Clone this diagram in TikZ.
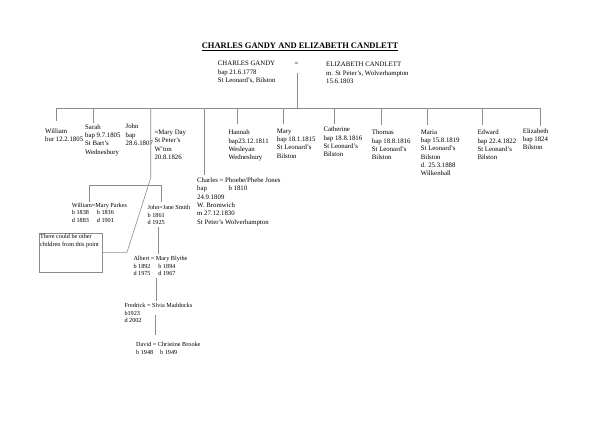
\documentclass[tikz,border=0pt]{standalone}
\usepackage{fontspec}
\setmainfont{Liberation Serif}
\tikzset{
  conn/.style={draw=black!45, line width=0.6pt},
  body/.style={anchor=north west, inner sep=0pt, align=left, font=\fontsize{6.8}{8.3}\selectfont},
  small/.style={anchor=north west, inner sep=0pt, align=left, font=\fontsize{6.2}{7.5}\selectfont},
  notebox/.style={draw=black!45, line width=0.6pt, anchor=north west, inner sep=0pt, minimum width=63.2pt, minimum height=39pt},
}
\begin{document}
\begin{tikzpicture}[x=1pt,y=-1pt]
\path[use as bounding box, fill=white] (0,0) rectangle (600,424);
% title
\node[anchor=base, inner sep=0pt, font=\fontsize{8.5}{10}\selectfont\bfseries] (title) at (300,48.6) {\underline{CHARLES GANDY AND ELIZABETH CANDLETT}};
% parents
\node[body] (cg) at (217.7,61) {CHARLES GANDY\\bap 21.6.1778\\St Leonard's, Bilston};
\node[anchor=center, inner sep=0pt, font=\fontsize{6.8}{8.3}\selectfont] (eq) at (296.5,63.5) {=};
\node[body] (ec) at (326,62) {ELIZABETH CANDLETT\\m. St Peter's, Wolverhampton\\15.6.1803};
% children
\node[body] (william) at (45,128.7) {William\\bur 12.2.1805};
\node[body] (sarah) at (85,124.4) {Sarah\\bap 9.7.1805\\St Bart's\\Wednesbury};
\node[body] (john) at (125.5,123.8) {John\\bap\\28.6.1807};
\node[body] (maryday) at (154.3,130) {=Mary Day\\St Peter's\\W'ton\\20.8.1826};
\node[body] (hannah) at (228.3,130) {Hannah\\bap23.12.1811\\Wesleyan\\Wednesbury};
\node[body] (mary) at (276.7,128.7) {Mary\\bap 18.1.1815\\St Leonard's\\Bilston};
\node[body] (catherine) at (323.3,127) {Catherine\\bap 18.8.1816\\St Leonard's\\Bilston};
\node[body] (thomas) at (371.7,130) {Thomas\\bap 18.8.1816\\St Leonard's\\Bilston};
\node[body] (maria) at (420.7,129.4) {Maria\\bap 15.8.1819\\St Leonard's\\Bilston\\d. 25.3.1888\\Wilkenhall};
\node[body] (edward) at (477.3,130) {Edward\\bap 22.4.1822\\St Leonard's\\Bilston};
\node[body] (elizabeth) at (522.7,128.4) {Elizabeth\\bap 1824\\Bilston};
\node[body] (charles) at (197,177.7) {Charles = Phoebe/Phebe Jones\\\makebox[31.3pt][l]{bap}b 1810\\24.9.1809\\W. Bromwich\\m 27.12.1830\\St Peter's Wolverhampton};
% descendants
\node[small] (wmp) at (71.7,202.9) {William=Mary Parkes\\\makebox[25pt][l]{b 1838}b 1836\\\makebox[25pt][l]{d 1883}d 1901};
\node[small] (jjs) at (147.5,205.2) {John=Jane Smith\\b 1861\\d 1925};
\node[notebox] (note) at (38.5,232.7) {};
\node[small] (notetext) at (40,234) {There could be other\\children from this point};
\node[small] (amb) at (133.3,256.2) {Albert = Mary Blythe\\\makebox[25pt][l]{b 1892}b 1894\\\makebox[25pt][l]{d 1975}d 1967};
\node[small] (fsm) at (124.3,303) {Fredrick = Slvia Maddocks\\b1923\\d 2002};
\node[small] (dcb) at (136,342) {David = Christine Brooke\\\makebox[24pt][l]{b 1948}b 1949};
% coordinates
\coordinate (mtop) at (297.3,73.3);
\coordinate (mbus) at (297.3,108.5);
\coordinate (busL) at (56,108.5);
\coordinate (busR) at (540.5,108.5);
\coordinate (dW) at (56,121);
\coordinate (bS) at (93.3,108.5);   \coordinate (dS) at (93.3,123);
\coordinate (bC) at (204.5,108.5);  \coordinate (dC) at (204.5,175);
\coordinate (bH) at (237.5,108.5);  \coordinate (dH) at (237.5,123.5);
\coordinate (bM) at (283.3,108.5);  \coordinate (dM) at (283.3,123.5);
\coordinate (bCa) at (334.2,108.5); \coordinate (dCa) at (334.2,124);
\coordinate (bT) at (381,108.5);    \coordinate (dT) at (381,125);
\coordinate (bMa) at (427.3,108.5); \coordinate (dMa) at (427.3,125);
\coordinate (bE) at (482.3,108.5);  \coordinate (dE) at (482.3,125);
\coordinate (dEl) at (540.5,125.5);
\coordinate (bJ) at (150.7,108.5);
\coordinate (kJ) at (150.7,178);
\coordinate (kJ2) at (127,252.3);
\coordinate (brL) at (89.3,185.5);
\coordinate (brR) at (161,185.5);
\coordinate (brLd) at (89.3,201.7);
\coordinate (brRd) at (161,201.7);
\coordinate (aT) at (158.3,226.5); \coordinate (aB) at (158.3,254);
\coordinate (fT) at (156.7,278.3); \coordinate (fB) at (156.7,300.7);
\coordinate (dT2) at (155,315);    \coordinate (dB2) at (155,335);
% connectors
\draw[conn] (mtop) -- (mbus);
\draw[conn] (dW) -- (busL) -- (busR) -- (dEl);
\foreach \a/\b in {bS/dS,bC/dC,bH/dH,bM/dM,bCa/dCa,bT/dT,bMa/dMa,bE/dE}
  \draw[conn] (\a) -- (\b);
\draw[conn] (bJ) -- (kJ) -- (kJ2) -- (note.east |- kJ2);
\draw[conn] (brLd) -- (brL) -- (brR) -- (brRd);
\draw[conn] (aT) -- (aB);
\draw[conn] (fT) -- (fB);
\draw[conn] (dT2) -- (dB2);
\end{tikzpicture}
\end{document}
